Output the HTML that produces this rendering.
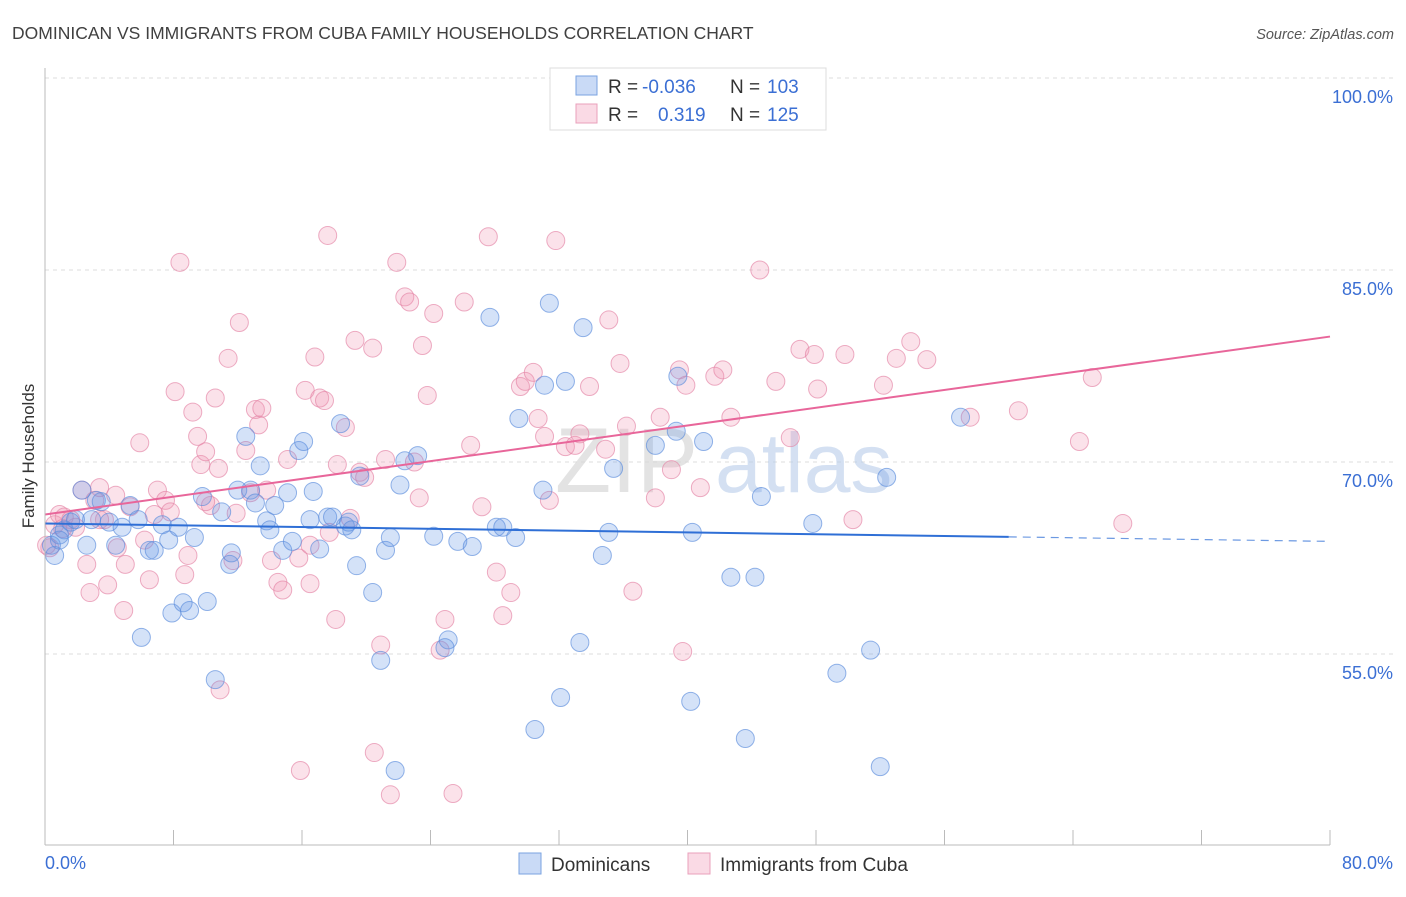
<!DOCTYPE html>
<html><head><meta charset="utf-8"><style>
body{margin:0;background:#fff;font-family:"Liberation Sans",sans-serif}
svg text{font-family:"Liberation Sans",sans-serif}
</style></head><body>
<svg id="chart" width="1406" height="892" xmlns="http://www.w3.org/2000/svg">
<text x="12" y="39" font-size="17.5" fill="#404040">DOMINICAN VS IMMIGRANTS FROM CUBA FAMILY HOUSEHOLDS CORRELATION CHART</text>
<text x="1394" y="39" font-size="14.5" fill="#555" font-style="italic" text-anchor="end">Source: ZipAtlas.com</text>
<g id="grid"></g>
<g>
<text x="555" y="492" font-size="92" fill="#d8d8d8" font-family="Liberation Serif" opacity="0.7">ZIP</text>
<text x="715" y="492" font-size="84" fill="#b8cdea" opacity="0.6">atlas</text>
</g>
<g id="pts"></g>
<g id="lines"></g>
<g id="axes"></g>
<text transform="translate(34,456) rotate(-90)" font-size="17" fill="#333" text-anchor="middle">Family Households</text>
<g>
<rect x="550" y="68" width="276" height="62" fill="#fff" stroke="#ddd"/>
<rect x="576" y="76" width="21" height="19" fill="rgba(100,150,230,0.35)" stroke="#7aa3e0"/>
<rect x="576" y="104" width="21" height="19" fill="rgba(240,150,180,0.35)" stroke="#eaa0bb"/>
<text x="608" y="93" font-size="19" fill="#333">R = </text>
<text x="642" y="93" font-size="19" fill="#3b6fd4">-0.036</text>
<text x="730" y="93" font-size="19" fill="#333">N = </text>
<text x="767" y="93" font-size="19" fill="#3b6fd4">103</text>
<text x="608" y="121" font-size="19" fill="#333">R = </text>
<text x="658" y="121" font-size="19" fill="#3b6fd4">0.319</text>
<text x="730" y="121" font-size="19" fill="#333">N = </text>
<text x="767" y="121" font-size="19" fill="#3b6fd4">125</text>
</g>
<g>
<rect x="519" y="853" width="22" height="21" fill="rgba(100,150,230,0.35)" stroke="#7aa3e0"/>
<text x="551" y="871" font-size="19" fill="#333">Dominicans</text>
<rect x="688" y="853" width="22" height="21" fill="rgba(240,150,180,0.35)" stroke="#eaa0bb"/>
<text x="720" y="871" font-size="19" fill="#333">Immigrants from Cuba</text>
</g>
</svg>
<script>
const xTicks=[0,8,16,24,32,40,48,56,64,72,80];
const yTicks=[55,70,85,100];
const yTickLabels=["55.0%","70.0%","85.0%","100.0%"];
const blueX=[0.6,0.4,0.9,1.2,1.6,1.9,2.3,2.6,2.9,3.2,3.5,4.0,4.4,4.8,5.3,5.8,6.0,6.5,6.8,7.3,7.7,7.9,8.3,8.6,9.0,9.3,9.8,10.1,10.6,11.0,11.5,11.6,12.0,12.5,12.8,13.1,13.4,13.8,14.0,14.3,14.8,15.1,15.4,15.8,16.1,16.5,16.7,17.1,17.6,17.9,18.4,18.7,18.9,19.1,19.4,19.6,20.4,20.9,21.2,21.5,21.8,22.1,22.4,23.2,24.2,25.1,24.9,25.7,26.6,27.7,28.1,28.5,29.3,29.5,30.5,31.0,31.4,32.1,32.4,33.3,33.5,34.7,35.1,35.4,38.0,39.3,39.4,40.2,40.3,41.0,42.7,43.6,44.2,44.6,47.8,49.3,51.4,52.0,52.4,57.0,31.1,0.9];
const blueY=[62.7,63.5,64.3,64.7,65.3,65.5,67.8,63.5,65.5,67.0,66.9,65.3,63.5,64.9,66.6,65.5,56.3,63.1,63.1,65.1,63.9,58.2,64.9,59.0,58.4,64.1,67.3,59.1,53.0,66.1,62.0,62.9,67.8,72.0,67.8,66.8,69.7,65.4,64.7,66.6,63.1,67.6,63.8,70.9,71.6,65.5,67.7,63.2,65.7,65.7,73.0,65.0,65.3,64.7,61.9,68.9,59.8,54.5,63.1,64.1,45.9,68.2,70.1,70.5,64.2,56.1,55.5,63.8,63.4,81.3,64.9,64.9,64.1,73.4,49.1,67.8,82.4,51.6,76.3,55.9,80.5,62.7,64.5,69.5,71.3,72.4,76.7,51.3,64.5,71.6,61.0,48.4,61.0,67.3,65.2,53.5,55.3,46.2,68.8,73.5,76.0,63.9];
const pinkX=[0.3,0.6,0.9,1.1,1.6,1.9,2.3,2.6,2.8,3.1,3.4,3.7,3.9,4.4,4.5,4.9,5.0,5.3,5.9,6.2,6.5,6.8,7.0,7.5,7.8,8.1,8.4,8.7,8.9,9.2,9.5,9.7,10.0,10.3,10.6,10.8,10.9,11.4,11.7,11.9,12.1,12.5,12.8,13.1,13.3,13.5,13.8,14.1,14.5,14.8,15.1,15.8,15.9,16.2,16.5,16.8,17.1,17.4,17.6,17.7,18.1,18.2,18.7,19.0,19.3,19.6,19.9,20.4,20.5,20.9,21.2,21.5,21.9,22.4,22.7,23.0,23.3,23.5,23.8,24.2,24.6,24.9,25.4,26.1,26.5,27.2,27.6,28.1,28.5,29.0,29.6,29.9,30.4,30.7,31.1,31.4,31.8,32.4,33.0,33.3,33.9,34.9,35.1,35.8,36.2,36.6,38.0,38.3,39.0,39.5,39.7,39.9,40.8,41.7,42.2,42.7,44.5,45.5,46.4,47.0,47.9,48.1,49.8,50.3,52.2,53.0,53.9,54.9,57.6,60.6,64.4,65.2,67.1,0.1,1.2,3.4,10.0,16.5];
const pinkY=[63.3,65.1,65.9,64.8,65.5,64.9,67.8,62.0,59.8,67.0,68.0,65.5,60.4,67.4,63.3,58.4,62.0,66.5,71.5,63.9,60.8,65.9,67.8,67.0,66.1,75.5,85.6,61.2,62.7,73.9,72.0,69.8,70.8,66.6,75.0,69.5,52.2,78.1,62.3,66.0,80.9,70.9,67.6,74.1,72.9,74.2,67.8,62.3,60.6,60.0,70.2,62.5,45.9,75.6,60.5,78.2,75.0,74.8,87.7,64.5,57.7,69.8,72.7,65.6,79.5,69.2,68.8,78.9,47.3,55.7,70.2,44.0,85.6,82.9,82.5,70.0,67.2,79.1,75.2,81.6,55.3,57.7,44.1,82.5,71.3,66.5,87.6,61.4,58.0,59.8,75.9,76.3,77.0,73.4,72.0,67.0,87.3,71.2,71.3,72.2,75.9,71.0,81.1,77.7,72.8,59.9,67.2,73.5,69.4,77.2,55.2,76.0,68.0,76.7,77.2,73.5,85.0,76.3,71.9,78.8,78.4,75.7,78.4,65.5,76.0,78.1,79.4,78.0,73.5,74.0,71.6,76.6,65.2,63.5,65.7,65.5,66.9,63.5];
const blueTrend=[65.2,63.8];
const pinkTrend=[65.9,79.8];
const blueSolidEnd=60;

const X=v=>45+v/80*1285;
const Y=v=>78+(100-v)*12.8;
const NS="http://www.w3.org/2000/svg";
function mk(parent,tag,attrs){const e=document.createElementNS(NS,tag);for(const k in attrs)e.setAttribute(k,attrs[k]);parent.appendChild(e);return e;}
const grid=document.getElementById('grid'),axes=document.getElementById('axes'),pts=document.getElementById('pts'),lines=document.getElementById('lines');
yTicks.forEach((t,i)=>{
  const l=mk(grid,'line',{x1:45,x2:1394,y1:Y(t),y2:Y(t),stroke:'#ddd','stroke-dasharray':'4,4'});
  
  
  const tx=mk(axes,'text',{x:1393,y:Y(t)+25,'font-size':18,fill:'#3b6fd4','text-anchor':'end'});
  tx.textContent=yTickLabels[i];
  
  
});
const ax=mk(axes,'line',{x1:45,x2:45,y1:68,y2:845,stroke:'#bbb'});


const bx=mk(axes,'line',{x1:45,x2:1330,y1:845,y2:845,stroke:'#bbb'});


xTicks.forEach(t=>{
  const l=mk(axes,'line',{x1:X(t),x2:X(t),y1:830,y2:845,stroke:'#bbb'});
  
  
});
const x0=mk(axes,'text',{x:45,y:869,'font-size':18,fill:'#3b6fd4'});x0.textContent='0.0%';


const x1=mk(axes,'text',{x:1393,y:869,'font-size':18,fill:'#3b6fd4','text-anchor':'end'});x1.textContent='80.0%';


pinkX.forEach((v,i)=>{
  const c=mk(pts,'circle',{cx:X(v),cy:Y(pinkY[i]),r:9,fill:'rgba(240,150,180,0.28)',stroke:'rgba(228,130,165,0.65)','stroke-width':1});
  
  
});
blueX.forEach((v,i)=>{
  const c=mk(pts,'circle',{cx:X(v),cy:Y(blueY[i]),r:9,fill:'rgba(100,150,230,0.28)',stroke:'rgba(90,140,220,0.65)','stroke-width':1});
  
  
});
const bm=blueTrend[0]+(blueTrend[1]-blueTrend[0])*blueSolidEnd/80;
const b1=mk(lines,'line',{x1:X(0),y1:Y(blueTrend[0]),x2:X(blueSolidEnd),y2:Y(bm),stroke:'#2f6fd6','stroke-width':2});


const b2=mk(lines,'line',{x1:X(blueSolidEnd),y1:Y(bm),x2:X(80),y2:Y(blueTrend[1]),stroke:'#2f6fd6','stroke-width':1.2,'stroke-dasharray':'8,6',opacity:0.7});


const p1=mk(lines,'line',{x1:X(0),y1:Y(pinkTrend[0]),x2:X(80),y2:Y(pinkTrend[1]),stroke:'#e8669a','stroke-width':2});


</script>
</body></html>
